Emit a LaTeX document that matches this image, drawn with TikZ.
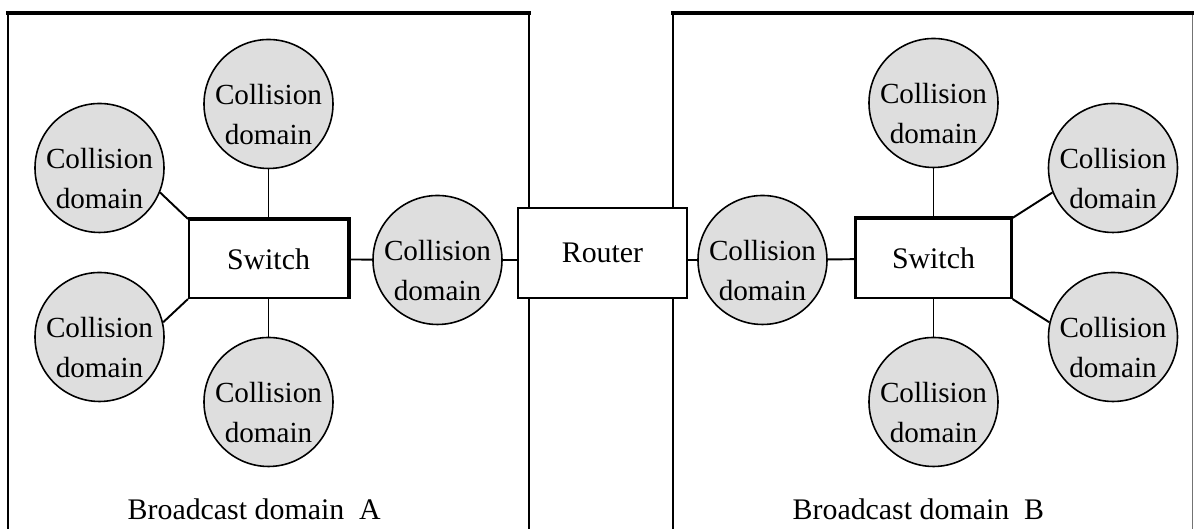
\documentclass[tikz,border=0pt]{standalone}
\usepackage{fontspec}
\setmainfont{Liberation Serif}

\begin{document}
	\begin{tikzpicture}[
		cd/.style  = {circle, draw=black, line width=0.45pt, fill=black!13, minimum size=1.29cm, inner sep=-3pt, align=center, text height=23pt, font=\fontsize{8.3}{11.3}\selectfont},
		dev/.style = {rectangle, draw=black, line width=0.6pt, fill=white, inner sep=0pt, font=\fontsize{8.5}{10}\selectfont},
		lnk/.style = {line width=0.55pt},
		lbl/.style = {font=\fontsize{8.5}{10}\selectfont}
		]
		\useasboundingbox (0,0) rectangle (11.94,5.29);
		\clip (0,0) rectangle (11.94,5.29);
		
		% Broadcast domain frames, open at the bottom
		\draw[line width=0.7pt] (0.08,-0.2) -- (0.08,5.16);
		\draw[line width=0.7pt] (5.29,-0.2) -- (5.29,5.16);
		\draw[line width=1.1pt] (0.06,5.16) -- (5.31,5.16);
		\draw[line width=0.7pt] (6.73,-0.2) -- (6.73,5.16);
		\draw[line width=0.4pt, black!55] (11.925,-0.2) -- (11.925,5.16);
		\draw[line width=1.1pt] (6.71,5.16) -- (12.0,5.16);
		
		% Devices
		\node[dev, minimum width=1.59cm, minimum height=0.78cm] (swA) at (2.685, 2.70) {Switch};
		\node[dev, minimum width=1.69cm, minimum height=0.90cm] (rtr) at (6.025, 2.76) {Router};
		\node[dev, minimum width=1.56cm, minimum height=0.79cm] (swB) at (9.335, 2.705) {Switch};
		\draw[line width=1.1pt] (swA.north west) -- (swA.north east) -- (swA.south east);
		\draw[line width=1.1pt] (swB.north west) -- (swB.north east);
		
		% Collision domains, side A
		\node[cd] (topA) at (2.685, 4.25) {Collision\\domain};
		\node[cd] (ulA)  at (0.995, 3.61) {Collision\\domain};
		\node[cd] (llA)  at (0.995, 1.92) {Collision\\domain};
		\node[cd] (botA) at (2.685, 1.27) {Collision\\domain};
		\node[cd] (midA) at (4.375, 2.69) {Collision\\domain};
		
		% Collision domains, side B
		\node[cd] (midB) at (7.625, 2.69) {Collision\\domain};
		\node[cd] (topB) at (9.335, 4.26) {Collision\\domain};
		\node[cd] (botB) at (9.335, 1.27) {Collision\\domain};
		\node[cd] (urB)  at (11.13, 3.61) {Collision\\domain};
		\node[cd] (lrB)  at (11.13, 1.92) {Collision\\domain};
		
		% Links
		\draw[lnk] (swA) -- (topA);
		\draw[lnk] (swA) -- (botA);
		\draw[lnk] (swA.north west) -- (ulA.-22);
		\draw[lnk] (swA.south west) -- (llA.13);
		\draw[lnk] (swA) -- (midA);
		\draw[lnk] (midA.east) -- (midA.east -| rtr.west);
		\draw[lnk] (rtr.east |- midB.west) -- (midB.west);
		\draw[lnk] (midB) -- (swB);
		\draw[lnk] (swB) -- (topB);
		\draw[lnk] (swB) -- (botB);
		\draw[lnk] (swB.north east) -- (urB.202);
		\draw[lnk] (swB.south east) -- (lrB.167);
		
		% Domain names
		\node[lbl, anchor=base west, inner sep=0pt] (nameA) at (1.27, 0.09) {Broadcast domain\enspace A};
		\node[lbl, anchor=base west, inner sep=0pt] (nameB) at (7.92, 0.09) {Broadcast domain\enspace B};
	\end{tikzpicture}
\end{document}
